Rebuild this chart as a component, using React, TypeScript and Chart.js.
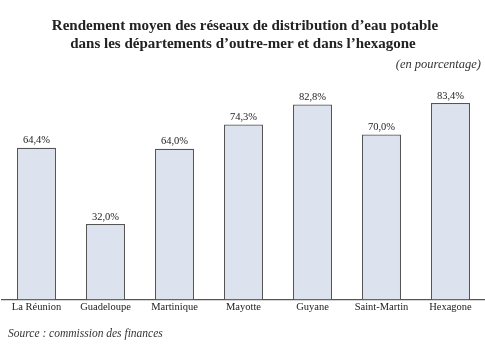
import React, { useEffect, useRef } from "react";
import { Chart, registerables } from "chart.js";

Chart.register(...registerables);

const categories = ["La Réunion", "Guadeloupe", "Martinique", "Mayotte", "Guyane", "Saint-Martin", "Hexagone"];
const values = [64.4, 32.0, 64.0, 74.3, 82.8, 70.0, 83.4];
const valueLabels = ["64,4%", "32,0%", "64,0%", "74,3%", "82,8%", "70,0%", "83,4%"];
const titleLines = [
  "Rendement moyen des réseaux de distribution d’eau potable",
  "dans les départements d’outre-mer et dans l’hexagone",
];
const unitText = "(en pourcentage)";
const sourceText = "Source : commission des finances";

const SERIF = "'Liberation Serif', 'DejaVu Serif', serif";

const textPlugin = {
  id: "texts",
  afterDraw(chart: any) {
    const ctx = chart.ctx;
    ctx.save();
    ctx.fillStyle = "#222";
    ctx.textAlign = "center";
    ctx.textBaseline = "middle";
    ctx.font = `bold 15px ${SERIF}`;
    ctx.fillText(titleLines[0], 245, 26);
    ctx.fillText(titleLines[1], 243, 44);
    ctx.fillStyle = "#333";
    ctx.font = `italic 12.5px ${SERIF}`;
    ctx.textAlign = "right";
    ctx.fillText(unitText, 481, 65);
    ctx.font = `italic 11.5px ${SERIF}`;
    ctx.textAlign = "left";
    ctx.fillText(sourceText, 8, 334);
    ctx.fillStyle = "#222";
    ctx.font = `10.5px ${SERIF}`;
    ctx.textAlign = "center";
    ctx.textBaseline = "bottom";
    const meta = chart.getDatasetMeta(0);
    meta.data.forEach((bar: any, i: number) => {
      ctx.fillText(valueLabels[i], bar.x, bar.y - 2);
    });
    ctx.restore();
  },
};

export default function App() {
  const ref = useRef<HTMLCanvasElement | null>(null);
  useEffect(() => {
    document.body.style.margin = "0";
    const chart = new Chart(ref.current!, {
      type: "bar",
      data: {
        labels: categories,
        datasets: [
          {
            data: values,
            backgroundColor: "#dde3ee",
            borderColor: "#555",
            borderWidth: 1.2,
            borderSkipped: "bottom",
            barPercentage: 0.565,
            categoryPercentage: 1,
          },
        ],
      },
      options: {
        animation: false,
        responsive: false,
        layout: { padding: { top: 64, left: 2, right: 0, bottom: 44 } },
        plugins: { legend: { display: false }, tooltip: { enabled: false }, title: { display: false } },
        scales: {
          x: {
            grid: { display: false, drawTicks: false },
            border: { color: "#555", width: 1.2 },
            ticks: { color: "#222", font: { family: SERIF, size: 10.5 }, padding: 2, maxRotation: 0 },
          },
          y: { display: false, min: 0, max: 100 },
        },
      },
      plugins: [textPlugin],
    });
    return () => chart.destroy();
  }, []);
  return (
    <div style={{ position: "fixed", left: 0, top: 0, width: 485, height: 360, background: "#fff" }}>
      <canvas ref={ref} width={485} height={360} style={{ width: 485, height: 360 }} />
    </div>
  );
}
